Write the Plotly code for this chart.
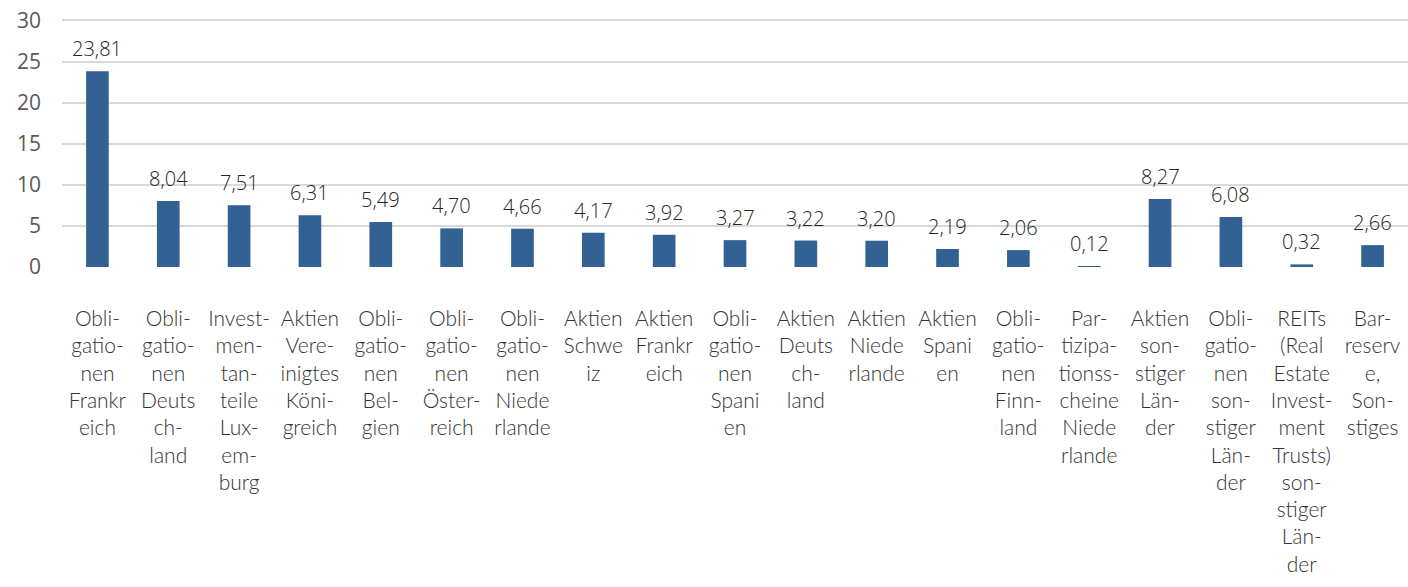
import plotly.graph_objects as go

categories = [
    "Obli-<br>gatio-<br>nen<br>Frankr<br>eich",
    "Obli-<br>gatio-<br>nen<br>Deuts<br>ch-<br>land",
    "Invest-<br>men-<br>tan-<br>teile<br>Lux-<br>em-<br>burg",
    "Aktien<br>Vere-<br>inigtes<br>Köni-<br>greich",
    "Obli-<br>gatio-<br>nen<br>Bel-<br>gien",
    "Obli-<br>gatio-<br>nen<br>Öster-<br>reich",
    "Obli-<br>gatio-<br>nen<br>Niede<br>rlande",
    "Aktien<br>Schwe<br>iz",
    "Aktien<br>Frankr<br>eich",
    "Obli-<br>gatio-<br>nen<br>Spani<br>en",
    "Aktien<br>Deuts<br>ch-<br>land",
    "Aktien<br>Niede<br>rlande",
    "Aktien<br>Spani<br>en",
    "Obli-<br>gatio-<br>nen<br>Finn-<br>land",
    "Par-<br>tizipa-<br>tionss-<br>cheine<br>Niede<br>rlande",
    "Aktien<br>son-<br>stiger<br>Län-<br>der",
    "Obli-<br>gatio-<br>nen<br>son-<br>stiger<br>Län-<br>der",
    "REITs<br>(Real<br>Estate<br>Invest-<br>ment<br>Trusts)<br>son-<br>stiger<br>Län-<br>der",
    "Bar-<br>reserv<br>e,<br>Son-<br>stiges",
]
values = [23.81, 8.04, 7.51, 6.31, 5.49, 4.70, 4.66, 4.17, 3.92, 3.27, 3.22, 3.20, 2.19, 2.06, 0.12, 8.27, 6.08, 0.32, 2.66]
y_ticks = [0, 5, 10, 15, 20, 25, 30]

x_idx = list(range(len(categories)))

fig = go.Figure()
fig.add_trace(go.Bar(
    x=x_idx, y=values, width=0.32,
    marker=dict(color="#336194", line=dict(width=0)),
    hoverinfo="skip",
))

for i, v in zip(x_idx, values):
    fig.add_annotation(
        x=i, y=v, text=f"{v:.2f}".replace(".", ","),
        showarrow=False, yanchor="bottom", yshift=7,
        font=dict(family="Open Sans", size=20, color="#262626", weight=300),
    )

fig.update_layout(
    width=1408, height=587,
    margin=dict(l=62, r=0, t=18, b=320, autoexpand=False),
    plot_bgcolor="white", paper_bgcolor="white",
    showlegend=False,
)
fig.update_xaxes(
    range=[-0.5, len(categories) - 0.5],
    tickmode="array", tickvals=x_idx, ticktext=categories,
    tickangle=0, showgrid=False, zeroline=False, showline=False,
    ticks="", ticklabelstandoff=37, automargin=False,
    ticklabeloverflow="allow",
    tickfont=dict(family="Lato", size=21, color="#333333", weight=300),
)
fig.update_yaxes(
    range=[0, 30.3], tickvals=y_ticks,
    showgrid=True, gridcolor="#d9d9d9", gridwidth=1.5,
    zeroline=False, showline=False, ticks="", automargin=False,
    ticklabelstandoff=20, ticklabeloverflow="allow",
    tickfont=dict(family="Open Sans", size=21, color="#595959"),
)

# remove the page's default body margin so the figure fills the window exactly
fig.write_html(
    "out.html",
    config={"displayModeBar": False},
    post_script="document.body.style.margin='0';document.body.style.overflow='hidden';",
)
